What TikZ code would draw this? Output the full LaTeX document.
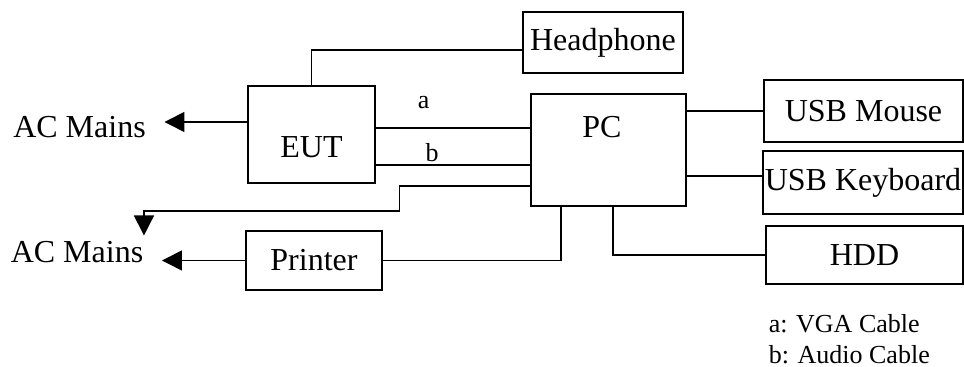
\documentclass[tikz,border=0pt]{standalone}
\usepackage{fontspec}
\setmainfont{Liberation Serif}
\usetikzlibrary{arrows.meta, positioning}
\newcommand{\boxfont}{\fontsize{16}{18}\selectfont}
\newcommand{\tagfont}{\fontsize{13}{15}\selectfont}

\begin{document}
\begin{tikzpicture}[x=0.5pt, y=-0.5pt, line width=0.75pt,
  box/.style={draw, rectangle, inner sep=0pt, font=\boxfont},
  mains/.style={inner xsep=9pt, inner ysep=2.5pt, font=\boxfont},
  pwr/.style={-{Triangle[length=10pt, width=10pt]}},
  tag/.style={font=\tagfont, inner sep=0pt}]

\useasboundingbox (0,0) rectangle (964,367);

% Units
\node[box, minimum width=63.5pt, minimum height=48.5pt,
      label={[yshift=-6.25pt, font=\boxfont]center:EUT}] (eut) at (311.5,134.5) {};
\node[box, minimum width=77.5pt, minimum height=56pt,
      label={[xshift=-3.25pt, yshift=11.5pt, font=\boxfont]center:PC}] (pc) at (608.5,150) {};
\node[box, minimum width=80pt, minimum height=30.5pt] (phone) at (603,42.5) {Headphone};
\node[box, minimum width=99.5pt, minimum height=31pt] (mouse) at (863.5,111) {USB Mouse};
\node[box, minimum width=100pt, minimum height=31.5pt] (kbd) at (863,182.5) {USB Keyboard};
\node[box, minimum width=98.5pt, minimum height=29pt] (hdd) at (864.5,255) {HDD};
\node[box, minimum width=68pt, minimum height=29.5pt] (printer) at (314,260.5) {Printer};

% Mains
\node[mains] (mainsA) at (79.5,127) {AC Mains};
\node[mains] (mainsB) at (77,252) {AC Mains};

% Cables
\draw (eut.north) |- ([yshift=-3.75pt]phone.west);
\draw ([yshift=3.25pt]eut.east) coordinate (ca) -- (ca -| pc.west)
      node[tag, pos=0.31, yshift=12.5pt] (lblA) {a};
\draw ([yshift=-15.25pt]eut.east) coordinate (cb) -- (cb -| pc.west)
      node[tag, pos=0.365, yshift=6pt] (lblB) {b};
\draw (pc.east |- mouse.west) -- (mouse.west);
\draw (kbd.west) ++(0,-6.5) coordinate (ck) -- (ck -| pc.east);
\draw ([xshift=2.25pt]pc.south) |- (hdd.west);
\draw (printer.east) -| ([xshift=-23.75pt]pc.south);

% Power
\draw[pwr] ([yshift=6.25pt]eut.west) coordinate (pa) -- (pa -| mainsA.east);
\draw[pwr] (printer.west) -- (printer.west -| mainsB.east);
\draw[pwr] ([yshift=-18pt]pc.west) -- ++(-131,0) -- ++(0,25)
      -| ([xshift=-9pt]mainsB.north east);

% Legend
\node[tag, anchor=base west] (legendA) at (768,333) {a: VGA Cable};
\node[tag, anchor=base west] (legendB) at (768,364) {b: Audio Cable};

\end{tikzpicture}
\end{document}
